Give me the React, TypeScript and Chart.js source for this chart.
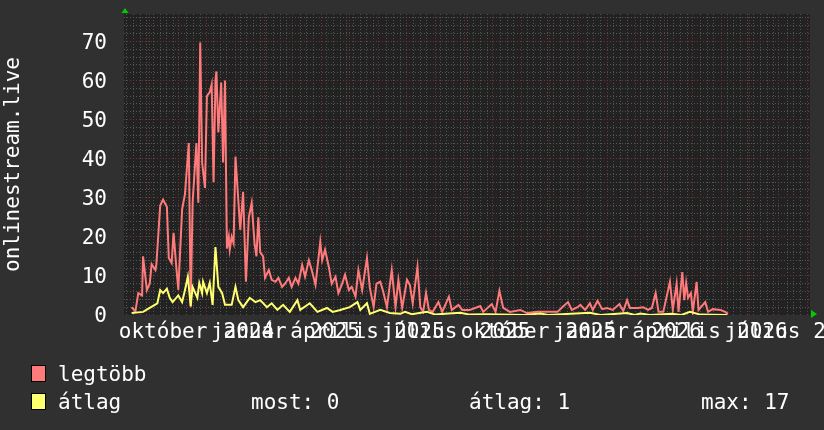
import React, { useEffect, useRef } from 'react';
import { Chart, registerables } from 'chart.js';
Chart.register(...registerables);

// days from start of the graph window
const maxDays = [8,12,15,19,20,24,27,29,33,34,38,41,45,47,50,52,55,57,61,64,68,70,72,76,78,80,82,85,87,90,92,94,96,97,99,102,104,106,108,110,111,113,115,117,119,122,125,128,131,134,137,139,141,143,146,148,152,155,159,162,166,169,173,176,180,183,187,190,194,197,201,206,208,211,215,218,222,225,229,232,236,239,243,246,250,255,258,262,265,269,272,276,281,285,288,292,297,300,303,308,311,314,317,320,324,330,334,341,344,351,355,363,374,377,386,390,394,398,405,416,423,434,444,455,460,466,470,476,479,484,489,492,497,502,507,513,520,524,528,531,539,545,550,554,558,561,566,573,576,580,582,586,588,590,592,595,597,601,603,610,613,618,626,631,634];
const maxValues = [2,1,5.6,5,15,6.4,8,13,11.5,13,28,29.5,27.7,14.6,13.3,21,12,6.4,27,31,44,2,28.7,44,28.7,69.7,39,32.5,56,57,59,34,60,62.3,46.7,59.5,39,60,17,20,16.7,20,18.4,40.5,33,21.8,31.5,8.5,25,28.7,18.4,15,25,16,15,9.5,11.5,9,8.5,9.5,7.2,8,9.5,7.2,9.5,8,12.8,9.8,14,11.5,7.7,18.7,14,16.7,12.3,8,9.8,5.6,8,10.3,6.4,7.2,4.7,11.5,6.4,14.6,7,2,8,8.5,6,2,11.5,2,9,1.8,9,7.7,3,12.3,2,0.8,5.6,1.3,0.8,3.3,0.8,4.7,1.3,2.6,1.3,1.3,2.3,0.8,2.8,0.8,6.2,1.8,0.8,1.3,0.5,0.8,0.8,0.8,2,3.3,1.3,2,2.6,1.3,3,1.3,3.6,1.5,1.8,1.3,2.8,1,3.8,1.8,1.8,2,1.3,1.8,5.6,0.8,0.8,8.5,1.3,8,0.8,11,3.8,8.2,4.4,5.6,0.8,8.5,1.3,3.3,0.8,1.5,1.3,0.8,0.3];

const avgDays = [8,20,27,35,38,41,45,48,51,57,61,64,67,70,72,77,79,82,83,87,90,93,96,99,103,106,113,117,120,125,132,138,143,150,155,161,167,174,182,185,195,203,213,219,227,237,245,248,255,258,269,279,290,295,302,318,327,337,353,363,380,395,420,437,445,489,500,528,536,542,552,575,585,594,605,633];
const avgValues = [0.5,0.8,1.8,3,6.4,5.6,6.7,4.4,3.3,5,3.3,6.4,9.8,2.3,7.2,4.4,8.2,5.6,8.5,5.6,8.2,2.6,17.4,7.2,5.6,2.6,2.6,7.2,3.8,2,4.4,3.3,3.8,2,3,1.3,2.6,0.8,3.8,1.3,3,0.8,1.8,0.8,1.3,2,3.3,1.3,3,0.3,1.3,0.5,0.3,0.8,0.2,0.8,0.1,0.3,0.6,0.1,0.2,0.1,0,0.4,0,0.6,0,0.5,0,0.4,0,0.3,0,0.8,0.1,0];

const labelDays = [41, 131, 221, 310, 400, 490, 580, 670, 750];
const monthLabels = ['október', 'január', 'április', 'július', 'október', 'január', 'április', 'július', ''];
const yearLabels = ['', '2024', '2025', '2025', '2025', '2025', '2026', '2026', '2026'];
const monthGridDays = [27, 57, 87, 117, 147, 177, 207, 237, 267, 297, 327, 357, 387, 417, 447, 477, 507, 537, 567, 597, 627, 657, 687, 717];
const yTicks = [0, 10, 20, 30, 40, 50, 60, 70];
const seriesNames = ['legtöbb', 'átlag'];
const statTexts = ['most: 0', 'átlag: 1', 'max: 17'];
const axisTitle = 'onlinestream.live';

const X_MIN = 0;
const X_MAX = 720;
const Y_MAX = 77;

const FONT = '"DejaVu Sans Mono", monospace';
const FONT_SIZE = 21;
const RED = '#ff7b7b';
const YELLOW = '#ffff70';
const MAJOR_GRID = '#703434';
const MINOR_GRID = '#545454';

const decorPlugin = {
  id: 'rrdDecor',
  beforeDraw(chart: any) {
    const { ctx, chartArea } = chart;
    ctx.save();
    ctx.fillStyle = '#222222';
    ctx.fillRect(chartArea.left, chartArea.top, chartArea.right - chartArea.left, chartArea.bottom - chartArea.top);
    ctx.restore();
  },
  afterDraw(chart: any) {
    const { ctx, chartArea } = chart;
    const xs = chart.scales.x;
    // year labels overlaid on the month labels, on the same tick positions
    const items = xs.getLabelItems(chartArea);
    if (items.length) {
      const it = items[0];
      const y = it.options.translation[1] + (it.textOffset || 0);
      ctx.save();
      ctx.font = `${FONT_SIZE}px ${FONT}`;
      ctx.fillStyle = '#ffffff';
      ctx.textAlign = 'center';
      ctx.textBaseline = it.options.textBaseline || 'top';
      labelDays.forEach((d, i) => {
        if (!yearLabels[i]) return;
        ctx.fillText(yearLabels[i], xs.getPixelForValue(d), y);
      });
      ctx.restore();
    }
    ctx.save();
    ctx.fillStyle = '#00cc00';
    const l = chartArea.left + 1;
    const t = chartArea.top;
    ctx.beginPath();
    ctx.moveTo(l - 3.5, t - 1);
    ctx.lineTo(l + 3.5, t - 1);
    ctx.lineTo(l, t - 6);
    ctx.closePath();
    ctx.fill();
    const r = chartArea.right;
    const b = chartArea.bottom - 1;
    ctx.beginPath();
    ctx.moveTo(r + 1, b - 4);
    ctx.lineTo(r + 1, b + 4);
    ctx.lineTo(r + 7, b);
    ctx.closePath();
    ctx.fill();
    ctx.restore();
  },
};

const zeroPad = (s: any) => { s.paddingLeft = 0; s.paddingRight = 0; s.paddingTop = 0; s.paddingBottom = 0; };

export default function App() {
  const ref = useRef<HTMLCanvasElement>(null);

  useEffect(() => {
    const weekly: number[] = [];
    for (let d = 3; d < X_MAX; d += 7) {
      if (monthGridDays.every((m) => Math.abs(m - d) > 2)) weekly.push(d);
    }
    const yMinorTicks: number[] = [];
    for (let v = 2; v < Y_MAX; v += 2) if (v % 10 !== 0) yMinorTicks.push(v);

    const tickFont = { family: FONT, size: FONT_SIZE };
    const chart = new Chart(ref.current as HTMLCanvasElement, {
      type: 'line',
      data: {
        datasets: [
          {
            label: seriesNames[0],
            data: maxDays.map((d, i) => ({ x: d, y: maxValues[i] })),
            borderColor: RED,
            backgroundColor: RED,
            borderWidth: 2,
            pointRadius: 0,
            tension: 0,
            order: 2,
            xAxisID: 'x',
            yAxisID: 'y',
          },
          {
            label: seriesNames[1],
            data: avgDays.map((d, i) => ({ x: d, y: avgValues[i] })),
            borderColor: YELLOW,
            backgroundColor: YELLOW,
            borderWidth: 2,
            pointRadius: 0,
            tension: 0,
            order: 1,
            xAxisID: 'x',
            yAxisID: 'y',
          },
        ],
      },
      options: {
        animation: false,
        responsive: false,
        events: [],
        layout: { padding: { top: 14, right: 14, left: 0, bottom: 0 } },
        plugins: { legend: { display: false }, tooltip: { enabled: false } },
        scales: {
          x: {
            type: 'linear', min: X_MIN, max: X_MAX, position: 'bottom', weight: 3,
            afterBuildTicks: (s: any) => { s.ticks = labelDays.map((v) => ({ value: v })); },
            afterFit: (s: any) => { s.height = 115; zeroPad(s); },
            grid: { display: false, drawTicks: false },
            border: { display: false },
            ticks: {
              autoSkip: false, maxRotation: 0, minRotation: 0, padding: 5, color: '#ffffff', font: tickFont,
              callback: (_v: any, i: number) => monthLabels[i],
            },
          },
          xMajor: {
            type: 'linear', min: X_MIN, max: X_MAX, position: 'bottom', weight: 1,
            afterBuildTicks: (s: any) => { s.ticks = monthGridDays.map((v) => ({ value: v })); },
            afterFit: (s: any) => { s.height = 0; zeroPad(s); },
            grid: { color: MAJOR_GRID, lineWidth: 1, drawTicks: false, borderDash: [1, 2] },
            border: { display: false, dash: [1, 2] },
            ticks: { display: false },
          },
          xMinor: {
            type: 'linear', min: X_MIN, max: X_MAX, position: 'bottom', weight: 0,
            afterBuildTicks: (s: any) => { s.ticks = weekly.map((v) => ({ value: v })); },
            afterFit: (s: any) => { s.height = 0; zeroPad(s); },
            grid: { color: MINOR_GRID, lineWidth: 1, drawTicks: false, borderDash: [1, 2] },
            border: { display: false, dash: [1, 2] },
            ticks: { display: false },
          },
          y: {
            type: 'linear', min: 0, max: Y_MAX, position: 'left', weight: 1,
            afterBuildTicks: (s: any) => { s.ticks = yTicks.map((v) => ({ value: v })); },
            afterFit: (s: any) => { s.width = 124; zeroPad(s); },
            grid: { color: (c: any) => (c.tick && c.tick.value === 0 ? 'rgba(0,0,0,0)' : MAJOR_GRID), lineWidth: 1, drawTicks: false, borderDash: [1, 2] },
            border: { display: false, dash: [1, 2] },
            ticks: { padding: 17, labelOffset: 2, color: '#ffffff', font: tickFont },
            title: { display: true, text: axisTitle, color: '#ffffff', font: tickFont, padding: { top: 1, bottom: 0 } },
          },
          yMinor: {
            type: 'linear', min: 0, max: Y_MAX, position: 'left', weight: 0,
            afterBuildTicks: (s: any) => { s.ticks = yMinorTicks.map((v) => ({ value: v })); },
            afterFit: (s: any) => { s.width = 0; zeroPad(s); },
            grid: { color: MINOR_GRID, lineWidth: 1, drawTicks: false, borderDash: [1, 2] },
            border: { display: false, dash: [1, 2] },
            ticks: { display: false },
          },
        },
      } as any,
      plugins: [decorPlugin],
    });
    return () => chart.destroy();
  }, []);

  const textStyle: React.CSSProperties = {
    position: 'absolute', fontFamily: FONT, fontSize: FONT_SIZE, lineHeight: '24px', color: '#ffffff', whiteSpace: 'pre',
  };
  const swatch = (color: string, top: number): React.CSSProperties => ({
    position: 'absolute', left: 31, top, width: 13, height: 15, background: color, border: '1px solid #000',
  });

  return (
    <div style={{ position: 'absolute', left: 0, top: 0, width: 824, height: 430, background: '#303030', overflow: 'hidden' }}>
      <canvas ref={ref} width={824} height={430} style={{ position: 'absolute', left: 0, top: 0, width: 824, height: 430 }} />
      <div style={swatch(RED, 365)} />
      <div style={{ ...textStyle, left: 58, top: 362 }}>{seriesNames[0]}</div>
      <div style={swatch(YELLOW, 393)} />
      <div style={{ ...textStyle, left: 58, top: 390 }}>{seriesNames[1]}</div>
      <div style={{ ...textStyle, left: 251, top: 390 }}>{statTexts[0]}</div>
      <div style={{ ...textStyle, left: 469, top: 390 }}>{statTexts[1]}</div>
      <div style={{ ...textStyle, left: 701, top: 390 }}>{statTexts[2]}</div>
    </div>
  );
}
